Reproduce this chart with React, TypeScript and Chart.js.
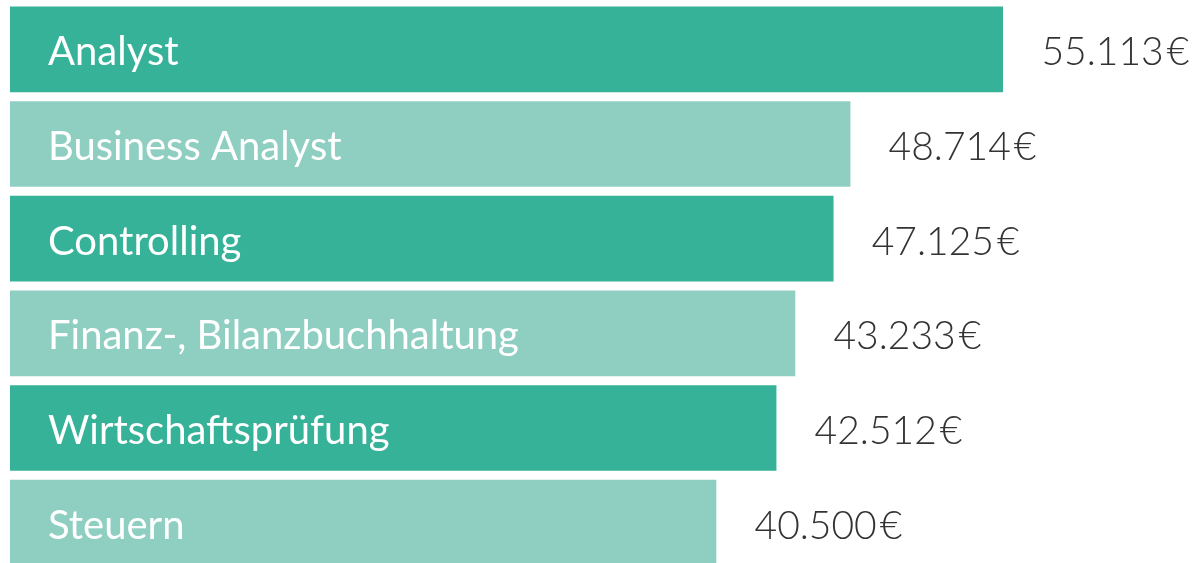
import React, { useEffect, useRef } from "react";
import { Chart, registerables } from "chart.js";

Chart.register(...registerables);

const categories = [
  "Analyst",
  "Business Analyst",
  "Controlling",
  "Finanz-, Bilanzbuchhaltung",
  "Wirtschaftsprüfung",
  "Steuern",
];
// bar lengths, in % of the longest bar
const barShares = [100, 84.6, 82.9, 79.05, 77.15, 71.1];
// salary labels shown to the right of each bar
const salaryLabels = ["55.113", "48.714", "47.125", "43.233", "42.512", "40.500"];
const currency = "€";
const barColors = ["#36b298", "#8fcfc2", "#36b298", "#8fcfc2", "#36b298", "#8fcfc2"];

const labelPlugin = {
  id: "barLabels",
  afterDatasetsDraw(chart: any) {
    const ctx = chart.ctx;
    const meta = chart.getDatasetMeta(0);
    ctx.save();
    meta.data.forEach((bar: any, i: number) => {
      const y = bar.y + 16;
      ctx.textBaseline = "alphabetic";
      ctx.textAlign = "left";
      ctx.fillStyle = "#ffffff";
      ctx.font = "400 40px Lato";
      ctx.fillText(categories[i], bar.base + 38, y);
      ctx.fillStyle = "#333333";
      ctx.font = "300 39px Lato";
      const x0 = bar.x + 38.5;
      ctx.fillText(salaryLabels[i], x0, y);
      const w = ctx.measureText(salaryLabels[i]).width;
      ctx.fillText(currency, x0 + w + 3, y);
    });
    ctx.restore();
  },
};

export default function App() {
  const ref = useRef<HTMLCanvasElement>(null);
  useEffect(() => {
    if (!ref.current) return;
    const chart = new Chart(ref.current, {
      type: "bar",
      data: {
        labels: categories,
        datasets: [
          {
            data: barShares,
            backgroundColor: barColors,
            borderWidth: 0,
            barThickness: 85,
          },
        ],
      },
      options: {
        indexAxis: "y",
        animation: false,
        responsive: false,
        maintainAspectRatio: false,
        layout: { padding: { left: 10, right: 195, top: 2, bottom: 0 } },
        plugins: { legend: { display: false }, tooltip: { enabled: false } },
        scales: {
          x: { display: false, min: 0, max: 100 },
          y: { display: false },
        },
      },
      plugins: [labelPlugin],
    });
    return () => chart.destroy();
  }, []);
  return (
    <div
      style={{
        position: "absolute",
        left: 0,
        top: 0,
        width: 1198,
        height: 563,
        overflow: "hidden",
        background: "#ffffff",
      }}
    >
      <canvas ref={ref} width={1198} height={570} style={{ display: "block" }} />
    </div>
  );
}
